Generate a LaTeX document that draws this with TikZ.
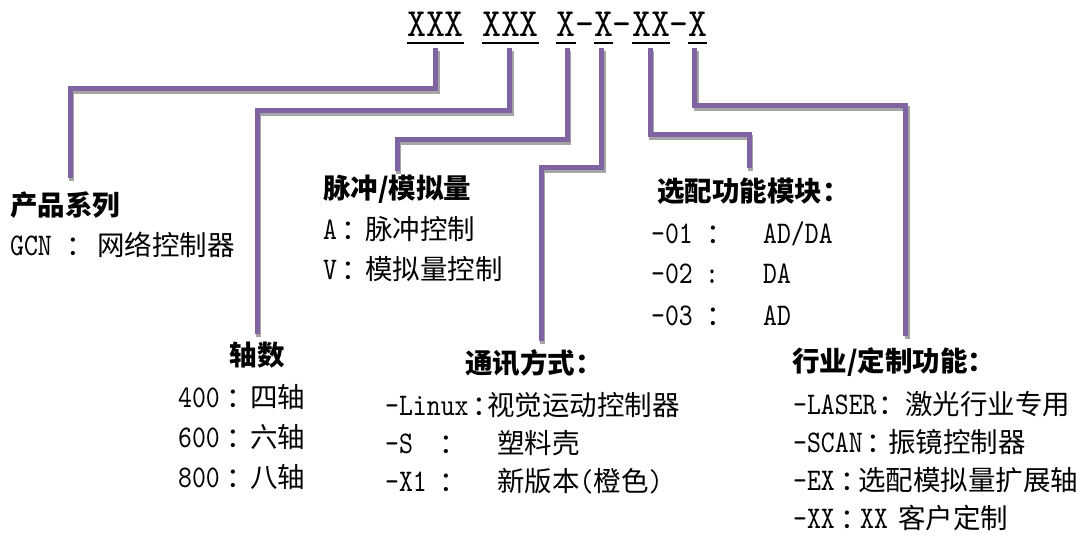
\documentclass[tikz,border=0pt]{standalone}
\usepackage{fontspec}
\newfontfamily\latn{lmmono10-regular.otf}[FakeStretch=0.84]
\newfontfamily\hdfont{lmmono10-regular.otf}[FakeStretch=0.9]
\newfontfamily\cjk{Noto Sans CJK SC}
\newcommand\C[1]{{\cjk\fontsize{27.5}{30}\selectfont #1}}
\definecolor{lnpurple}{HTML}{8064A2}
\definecolor{shgray}{HTML}{A5A5A5}
\begin{document}
\begin{tikzpicture}[x=1pt,y=-1pt,
  hd/.style={anchor=base, inner sep=0pt, font=\hdfont\fontsize{40}{44}\selectfont},
  uline/.style={line width=2pt, black},
  conn/.style={draw=lnpurple, line width=5pt, line cap=butt, line join=miter,
     preaction={draw=shgray, line width=5pt, transform canvas={xshift=1.5pt,yshift=-3pt}}},
  txt/.style={anchor=base west, inner sep=0pt, font=\latn\fontsize{31.5}{33}\selectfont},
  cj/.style={anchor=base west, inner sep=0pt, font=\cjk\fontsize{27.5}{30}\selectfont},
  ttl/.style={anchor=base west, inner sep=0pt, font=\cjk\bfseries\fontsize{27.5}{30}\selectfont},
  col/.style={anchor=base west, xshift=-5.5pt, inner sep=0pt, font=\cjk\fontsize{27.5}{30}\selectfont},
]
\fill[white] (0,0) rectangle (1089,540);
\useasboundingbox (0,0) rectangle (1089,540);

% header
\node[hd] (h1) at (435.5,37) {XXX};
\node[hd] (h2) at (510.5,37) {XXX};
\node[hd] (h3) at (566,37) {X};
\node[hd] (d1) at (584.5,37) {-};
\node[hd] (h4) at (603.5,37) {X};
\node[hd] (d2) at (622,37) {-};
\node[hd] (h5) at (651,37) {XX};
\node[hd] (d3) at (679,37) {-};
\node[hd] (h6) at (697.5,37) {X};
\foreach \h in {h1,h2,h3,h4,h5,h6}
  \draw[uline] ([yshift=-6pt]\h.base west) -- ([yshift=-6pt]\h.base east);

% connector end points
\coordinate (e1) at (70,178);
\coordinate (e2) at (257,334);
\coordinate (e3) at (397,171);
\coordinate (e4) at (541,341);
\coordinate (e5) at (749,168);
\coordinate (e6) at (905.5,336);

\draw[conn] ([yshift=-11pt]h1.base) -- ++(0,40.5) -| (e1);
\draw[conn] ([xshift=-1pt,yshift=-11pt]h2.base) -- ++(0,62.5) -| (e2);
\draw[conn] ([xshift=1pt,yshift=-11pt]h3.base) -- ++(0,91.5) -| (e3);
\draw[conn] ([xshift=-2pt,yshift=-11pt]h4.base) -- ++(0,119.5) -| (e4);
\draw[conn] ([xshift=-1pt,yshift=-11pt]h5.base) -- ++(0,86.5) -| (e5);
\draw[conn] ([xshift=-3pt,yshift=-11pt]h6.base) -- ++(0,58) -| (e6);

% 产品系列
\node[ttl] (t1) at (10,215) {产品系列};
\node[txt] (k1) at (10,255) {GCN};
\node[col] (c1) at (72,255) {：};
\node[cj] (v1) at (97,255) {网络控制器};

% 轴数
\node[ttl, anchor=base] (t2) at (257,365) {轴数};
\node[txt] (k2a) at (178,407) {400}; \node[col] (c2a) at (232,407) {：}; \node[cj] (v2a) at (250,407) {四轴};
\node[txt] (k2b) at (178,447) {600}; \node[col] (c2b) at (232,447) {：}; \node[cj] (v2b) at (250,447) {六轴};
\node[txt] (k2c) at (178,487) {800}; \node[col] (c2c) at (232,487) {：}; \node[cj] (v2c) at (250,487) {八轴};

% 脉冲/模拟量
\node[ttl] (t3) at (323,198) {脉冲/模拟量};
\node[txt] (k3a) at (323,240) {A}; \node[col] (c3a) at (347,240) {：}; \node[cj] (v3a) at (365,240) {脉冲控制};
\node[txt] (k3b) at (323,279) {V}; \node[col] (c3b) at (347,279) {：}; \node[cj] (v3b) at (365,279) {模拟量控制};

% 通讯方式
\node[ttl] (t4) at (465,373) {通讯方式：};
\node[txt] (k4a) at (385,415) {-Linux}; \node[col] (c4a) at (478,415) {：}; \node[cj] (v4a) at (487,415) {视觉运动控制器};
\node[txt] (k4b) at (385,453) {-S}; \node[col] (c4b) at (445,453) {：}; \node[cj] (v4b) at (497,453) {塑料壳};
\node[txt] (k4c) at (385,491) {-X1}; \node[col] (c4c) at (445,491) {：}; \node[txt] (v4c) at (497,491) {\C{新版本}(\C{橙色})};

% 选配功能模块
\node[ttl] (t5) at (657,201) {选配功能模块：};
\node[txt] (k5a) at (651,243) {-01}; \node[col] (c5a) at (712,243) {：}; \node[txt] (v5a) at (763,243) {AD/DA};
\node[txt] (k5b) at (651,283) {-02}; \node[txt, anchor=base] (c5b) at (712,283) {:}; \node[txt] (v5b) at (763,283) {DA};
\node[txt] (k5c) at (651,325) {-03}; \node[col] (c5c) at (712,325) {：}; \node[txt] (v5c) at (763,325) {AD};

% 行业/定制功能
\node[ttl] (t6) at (792,371) {行业/定制功能：};
\node[txt] (k6a) at (793,414) {-LASER}; \node[col] (c6a) at (884,414) {：}; \node[cj] (v6a) at (905,414) {激光行业专用};
\node[txt] (k6b) at (793,452) {-SCAN}; \node[col] (c6b) at (872,452) {：}; \node[cj] (v6b) at (888,452) {振镜控制器};
\node[txt] (k6c) at (793,490) {-EX}; \node[col] (c6c) at (846,490) {：}; \node[cj] (v6c) at (858,490) {选配模拟量扩展轴};
\node[txt] (k6d) at (793,528) {-XX}; \node[col] (c6d) at (846,528) {：}; \node[txt] (v6d) at (860,528) {XX}; \node[cj] (w6d) at (898,528) {客户定制};
\end{tikzpicture}
\end{document}
